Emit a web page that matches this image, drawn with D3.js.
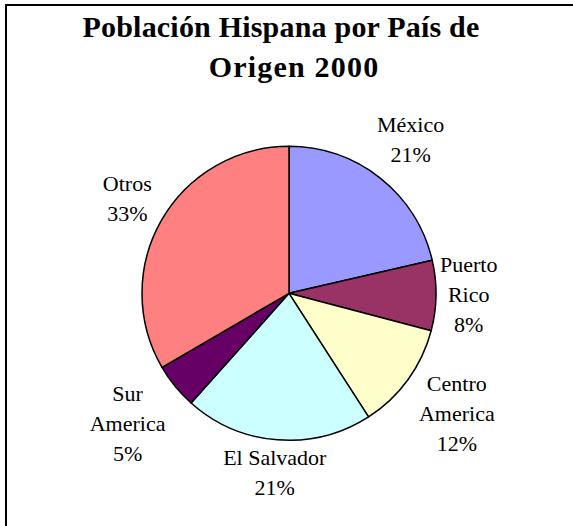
<!DOCTYPE html>
<html>
<head>
<meta charset="utf-8">
<script src="https://cdn.jsdelivr.net/npm/d3@7"></script>
<style>
  body { margin: 0; background: #fff; }
  svg { display: block; }
  text { font-family: "Liberation Serif", "Times New Roman", Times, "DejaVu Serif", serif; }
</style>
</head>
<body>
<script>
// Hispanic population by country of origin, 2000 (pie)

var categories = ["México", "Puerto Rico", "Centro America", "El Salvador", "Sur America", "Otros"];
var labelLines = [["México"], ["Puerto", "Rico"], ["Centro", "America"], ["El Salvador"], ["Sur", "America"], ["Otros"]];
var values = [21.4, 7.7, 11.8, 20.7, 5.0, 33.4];
var colors = ["#9999FF", "#993366", "#FFFFCC", "#CCFFFF", "#660066", "#FF8080"];
var titleLines = ["Población Hispana por País de", "Origen 2000"];

var width = 573, height = 526;
var cx = 289, cy = 293.3, radius = 147;

var svg = d3.select("body").append("svg")
    .attr("width", width)
    .attr("height", height);

// chart frame (only top/left visible in the window)
svg.append("rect")
    .attr("x", 6).attr("y", 5)
    .attr("width", 700).attr("height", 700)
    .attr("fill", "none")
    .attr("stroke", "#000")
    .attr("stroke-width", 2);

// title
svg.append("text")
    .attr("x", 281).attr("y", 37)
    .style("text-anchor", "middle")
    .style("font-weight", "bold")
    .style("font-size", "30px")
    .style("letter-spacing", "0.2px")
    .text(titleLines[0]);
svg.append("text")
    .attr("x", 294).attr("y", 77)
    .style("text-anchor", "middle")
    .style("font-weight", "bold")
    .style("font-size", "30px")
    .style("letter-spacing", "1.2px")
    .text(titleLines[1]);

var total = d3.sum(values);
var pct = d3.format(".0%");

var pie = d3.pie().sort(null).value(function(d) { return d; });
var arc = d3.arc().innerRadius(0).outerRadius(radius);
var arcs = pie(values);

var g = svg.append("g")
    .attr("transform", "translate(" + cx + "," + cy + ")");

g.selectAll("path.slice")
    .data(arcs)
    .enter().append("path")
    .attr("class", "slice")
    .attr("d", arc)
    .attr("fill", function(d, i) { return colors[i]; })
    .attr("stroke", "#000")
    .attr("stroke-width", 1.5)
    .attr("stroke-linejoin", "round");

// labels: box pushed out along the mid angle until its nearest point is `gap` from center
var lineH = 30, gap = 151;

arcs.forEach(function(d, i) {
  var lines = labelLines[i].concat([pct(values[i] / total)]);
  var lg = g.append("g").attr("class", "label");
  var texts = lines.map(function(s) {
    return lg.append("text")
        .style("text-anchor", "middle")
        .style("font-size", "22px")
        .text(s);
  });
  var w = d3.max(texts, function(t) { return t.node().getComputedTextLength(); });
  var h = lines.length * lineH;
  var a = (d.startAngle + d.endAngle) / 2;
  var sx = Math.sin(a), sy = -Math.cos(a);

  function nearest(t) {
    var dx = Math.max(0, Math.abs(t * sx) - w / 2),
        dy = Math.max(0, Math.abs(t * sy) - h / 2);
    return Math.sqrt(dx * dx + dy * dy);
  }
  var lo = 0, hi = 600;
  for (var k = 0; k < 60; k++) {
    var mid = (lo + hi) / 2;
    if (nearest(mid) < gap) lo = mid; else hi = mid;
  }
  var bx = lo * sx, by = lo * sy;
  texts.forEach(function(t, j) {
    t.attr("x", bx).attr("y", by - h / 2 + j * lineH + 21);
  });
});
</script>
</body>
</html>
